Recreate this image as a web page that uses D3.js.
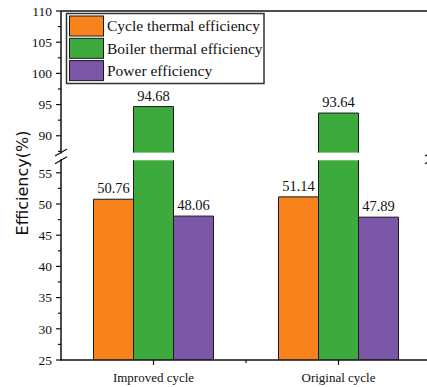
<!DOCTYPE html>
<html><head><meta charset="utf-8">
<script src="https://cdn.jsdelivr.net/npm/d3@7"></script>
<style>
body{margin:0;background:#fff}
svg{display:block}
svg text{font-family:'Liberation Serif','Times New Roman',Times,'DejaVu Serif',serif}
svg text.ytitle{font-family:'DejaVu Sans',Verdana,sans-serif}
</style>
</head><body>
<svg id="chart" width="427" height="387"></svg>
<script>
// Efficiency comparison of the two cycles
const categories = ["Improved cycle", "Original cycle"];
const seriesNames = ["Cycle thermal efficiency", "Boiler thermal efficiency", "Power efficiency"];
const cycleThermal = [50.76, 51.14];
const boilerThermal = [94.68, 93.64];
const powerEfficiency = [48.06, 47.89];
const lowerTicks = [25, 30, 35, 40, 45, 50, 55];
const upperTicks = [90, 95, 100, 105, 110];
const colors = ["#f8821b", "#3caa3c", "#7c56a7"];

const series = [cycleThermal, boilerThermal, powerEfficiency];

const svg = d3.select("#chart");
const plotLeft = 61, plotRight = 431, plotTop = 11, plotBottom = 360;
const lowerTopPx = 160.3, upperBotPx = 152.6;

// broken y axis: two linear segments
const yLow = d3.scaleLinear().domain([25, 57]).range([plotBottom, lowerTopPx]);
const yUp = d3.scaleLinear().domain([87.3, 110]).range([upperBotPx, plotTop]);

const x0 = d3.scaleBand().domain(categories).range([plotLeft, plotRight]);
const x1 = d3.scaleBand().domain(seriesNames).range([-60, 60]);

// bars
const g = svg.append("g");
categories.forEach((cat, ci) => {
  series.forEach((vals, si) => {
    const v = vals[ci];
    const bx = x0(cat) + x0.bandwidth() / 2 + x1(seriesNames[si]);
    const bw = x1.bandwidth();
    const pieces = [];
    if (v <= yLow.domain()[1]) {
      pieces.push({y0: yLow(v), y1: plotBottom, topEdge: true});
    } else {
      pieces.push({y0: lowerTopPx, y1: plotBottom, topEdge: false});
      pieces.push({y0: yUp(v), y1: upperBotPx, topEdge: true});
    }
    pieces.forEach(p => {
      g.append("rect").attr("x", bx).attr("y", p.y0).attr("width", bw)
        .attr("height", p.y1 - p.y0).attr("fill", colors[si]);
      const path = d3.path();
      path.moveTo(bx, p.y1);
      path.lineTo(bx, p.y0);
      if (p.topEdge) path.lineTo(bx + bw, p.y0); else path.moveTo(bx + bw, p.y0);
      path.lineTo(bx + bw, p.y1);
      g.append("path").attr("d", path.toString()).attr("fill", "none")
        .attr("stroke", "#1a1a1a").attr("stroke-width", 1);
    });
    const ty = v <= yLow.domain()[1] ? yLow(v) : yUp(v);
    g.append("text").attr("x", bx + bw / 2).attr("y", ty - 6)
      .attr("text-anchor", "middle").attr("font-size", 14.5).attr("fill", "#111")
      .text(v.toFixed(2));
  });
});

// axes
const ax = svg.append("g").attr("stroke", "#111").attr("stroke-width", 1.5).attr("fill", "none");
ax.append("line").attr("x1", plotLeft).attr("x2", plotLeft).attr("y1", plotTop).attr("y2", upperBotPx + 1);
ax.append("line").attr("x1", plotLeft).attr("x2", plotLeft).attr("y1", lowerTopPx - 1).attr("y2", plotBottom);
ax.append("line").attr("x1", plotLeft).attr("x2", 427).attr("y1", plotTop).attr("y2", plotTop);
ax.append("line").attr("x1", plotLeft - 1).attr("x2", 427).attr("y1", plotBottom).attr("y2", plotBottom);

// y ticks
const tickG = svg.append("g").attr("stroke", "#111").attr("stroke-width", 1.2);
const labG = svg.append("g").attr("font-size", 13.5).attr("fill", "#111").attr("text-anchor", "end");
function yTicks(scale, majors) {
  const [d0, d1] = scale.domain();
  majors.forEach(t => {
    tickG.append("line").attr("x1", plotLeft - 5).attr("x2", plotLeft).attr("y1", scale(t)).attr("y2", scale(t));
    labG.append("text").attr("x", plotLeft - 9).attr("y", scale(t)).attr("dy", "0.35em").text(t);
  });
  for (let t = Math.ceil(d0 / 2.5) * 2.5; t <= d1; t += 2.5) {
    if (t % 5 !== 0) tickG.append("line").attr("x1", plotLeft - 3).attr("x2", plotLeft).attr("y1", scale(t)).attr("y2", scale(t));
  }
}
yTicks(yLow, lowerTicks);
yTicks(yUp, upperTicks);

// x ticks
categories.forEach(cat => {
  const cx = x0(cat) + x0.bandwidth() / 2;
  tickG.append("line").attr("x1", cx).attr("x2", cx).attr("y1", plotBottom).attr("y2", plotBottom + 5);
  svg.append("text").attr("x", cx).attr("y", plotBottom + 22).attr("text-anchor", "middle")
    .attr("font-size", 13).attr("fill", "#111").text(cat);
});
const midX = x0(categories[1]);
tickG.append("line").attr("x1", midX).attr("x2", midX).attr("y1", plotBottom).attr("y2", plotBottom + 3);

// axis break marks
[plotLeft, plotRight].forEach(bx => {
  [upperBotPx + 1, lowerTopPx + 1].forEach(by => {
    svg.append("line").attr("x1", bx - 6).attr("x2", bx + 6).attr("y1", by + 2.5).attr("y2", by - 4.5)
      .attr("stroke", "#111").attr("stroke-width", 1.2);
  });
});

// y title
svg.append("text").attr("class", "ytitle").attr("transform", "translate(28,183) rotate(-90)")
  .attr("text-anchor", "middle").attr("font-size", 16).attr("fill", "#111").text("Efficiency(%)");

// legend
const lg = svg.append("g");
lg.append("rect").attr("x", 66.5).attr("y", 13.5).attr("width", 197.5).attr("height", 70)
  .attr("fill", "#fff").attr("stroke", "#333").attr("stroke-width", 1.5);
seriesNames.forEach((name, i) => {
  const ry = 16 + i * 22.3;
  lg.append("rect").attr("x", 69.5).attr("y", ry).attr("width", 34).attr("height", 20)
    .attr("fill", colors[i]).attr("stroke", "#1a1a1a").attr("stroke-width", 1);
  lg.append("text").attr("x", 107).attr("y", ry + 10).attr("dy", "0.35em")
    .attr("font-size", 15.5).attr("fill", "#111").text(name);
});
</script>
</body></html>
